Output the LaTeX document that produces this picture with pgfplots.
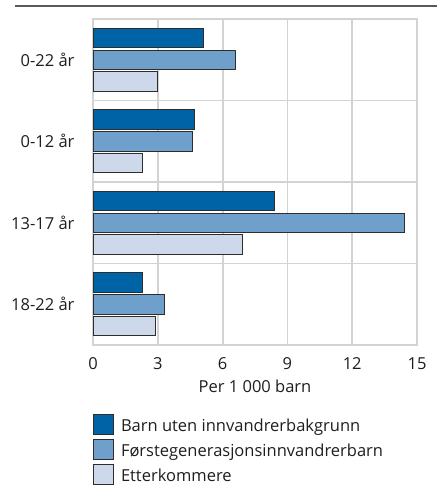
\documentclass[border=0pt]{standalone}
\usepackage{fontspec}
\setmainfont{Open Sans}
\usepackage{pgfplots}
\pgfplotsset{compat=1.18}
\definecolor{c1}{RGB}{0,99,166}
\definecolor{c2}{RGB}{111,159,203}
\definecolor{c3}{RGB}{205,217,235}
\definecolor{gridc}{RGB}{211,211,211}
\definecolor{txt}{RGB}{30,30,30}
\definecolor{edge}{RGB}{45,45,45}
\newcommand{\lblfont}{\fontsize{16.5}{19}\selectfont}
\begin{document}
\begin{tikzpicture}[x=1pt,y=1pt]
\useasboundingbox (0,0) rectangle (443,486);
\draw[line width=1.3pt, black!65] (15,480) -- (437,480);
\begin{axis}[
  at={(93pt,141pt)}, anchor=south west,
  scale only axis, width=324pt, height=326pt,
  xmin=0, xmax=15, ymin=-0.5, ymax=3.5, y dir=reverse,
  xtick={0,3,...,15}, ytick={0,1,2,3},
  yticklabels={0-22 år, 0-12 år, 13-17 år, 18-22 år},
  minor ytick={0.5,1.5,2.5},
  xmajorgrids, ymajorgrids=false, yminorgrids,
  major grid style={gridc, line width=1.8pt},
  minor grid style={gridc, line width=1.8pt},
  axis line style={gridc, line width=1.8pt},
  major tick length=0pt, minor tick length=0pt,
  tick label style={font=\lblfont, text=txt},
  /pgf/number format/assume math mode=true,
  yticklabel style={anchor=east, xshift=-15pt},
  xticklabel style={anchor=base, yshift=-24pt},
  xlabel={Per 1 000 barn},
  xlabel style={font=\lblfont, text=txt, at={(axis description cs:0.5,-0.1442)}, anchor=base},
  xbar, bar width=19.5pt,
  legend cell align=left,
  legend style={draw=none, fill=none, inner sep=0pt, at={(axis description cs:0,-0.2115)}, anchor=north west,
    font=\lblfont, text=txt, row sep=4.2pt, column sep=7pt,
    nodes={inner sep=0pt}},
  legend image code/.code={\draw[#1, draw=edge, line width=0.8pt] (0pt,-9pt) rectangle (20pt,11pt);},
]
\addplot[fill=c1, draw=edge, line width=0.8pt, bar shift=21.75pt] coordinates {(5.1,0) (4.7,1) (8.4,2) (2.3,3)};
\addplot[fill=c2, draw=edge, line width=0.8pt, bar shift=0pt] coordinates {(6.6,0) (4.6,1) (14.4,2) (3.3,3)};
\addplot[fill=c3, draw=edge, line width=0.8pt, bar shift=-21.75pt] coordinates {(3.0,0) (2.3,1) (6.9,2) (2.9,3)};
\legend{Barn uten innvandrerbakgrunn, Førstegenerasjonsinnvandrerbarn, Etterkommere}
\end{axis}
\end{tikzpicture}
\end{document}
